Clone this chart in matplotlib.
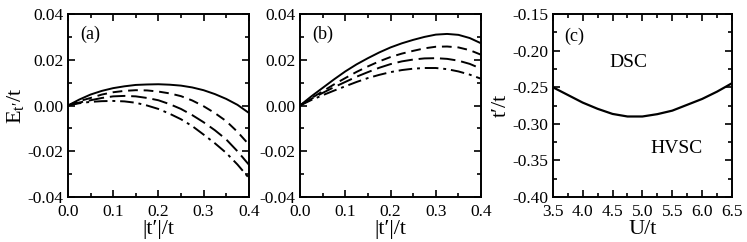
import matplotlib.pyplot as plt
from matplotlib.ticker import MultipleLocator

plt.rcParams["font.family"] = ["Liberation Serif", "DejaVu Serif"]
plt.rcParams["mathtext.fontset"] = "stix"

# panel (a) and (b): E_t'/t vs |t'|/t
tp = [0.0, 0.025, 0.05, 0.075, 0.10, 0.125, 0.15, 0.175, 0.20,
      0.225, 0.25, 0.275, 0.30, 0.325, 0.35, 0.375, 0.40]

a_solid = [0, 0.0026, 0.0048, 0.0064, 0.0076, 0.0084, 0.0090, 0.0092, 0.0093,
           0.0091, 0.0087, 0.0079, 0.0067, 0.0050, 0.0029, 0.0003, -0.0032]
a_dash = [0, 0.0019, 0.0033, 0.0048, 0.0058, 0.0064, 0.0067, 0.0066, 0.0061,
          0.0053, 0.0041, 0.0022, -0.0003, -0.0033, -0.0068, -0.0115, -0.0170]
a_ldash = [0, 0.0013, 0.0023, 0.0033, 0.0040, 0.0042, 0.0040, 0.0033, 0.0023,
           0.0006, -0.0015, -0.0042, -0.0073, -0.0108, -0.0148, -0.0200, -0.0258]
a_dashdot = [0, 0.0010, 0.0016, 0.0019, 0.0020, 0.0018, 0.0012, 0.0000, -0.0015,
             -0.0036, -0.0060, -0.0090, -0.0127, -0.0165, -0.0207, -0.0258, -0.0316]

b_solid = [0, 0.0040, 0.0077, 0.0114, 0.0149, 0.0180, 0.0207, 0.0232, 0.0254,
           0.0272, 0.0287, 0.0300, 0.0310, 0.0313, 0.0309, 0.0295, 0.0272]
b_dash = [0, 0.0032, 0.0062, 0.0092, 0.0120, 0.0147, 0.0171, 0.0193, 0.0212,
          0.0227, 0.0239, 0.0250, 0.0257, 0.0258, 0.0254, 0.0242, 0.0222]
b_ldash = [0, 0.0029, 0.0055, 0.0080, 0.0103, 0.0126, 0.0146, 0.0165, 0.0181,
           0.0193, 0.0201, 0.0206, 0.0207, 0.0204, 0.0196, 0.0182, 0.0161]
b_dashdot = [0, 0.0024, 0.0045, 0.0065, 0.0084, 0.0103, 0.0120, 0.0134, 0.0146,
             0.0155, 0.0161, 0.0164, 0.0164, 0.0159, 0.0149, 0.0135, 0.0117]

# panel (c): phase boundary t'/t vs U/t
U = [3.5, 3.75, 4.0, 4.25, 4.5, 4.75, 5.0, 5.25, 5.5, 5.75, 6.0, 6.25, 6.5]
boundary = [-0.250, -0.2605, -0.271, -0.2795, -0.2865, -0.2900, -0.2900, -0.2868,
            -0.2820, -0.2740, -0.2660, -0.2560, -0.2445]

styles = [(0, ()), (0, (5, 3)), (0, (8, 3)), (0, (7, 2.5, 1.5, 2.5))]


def style_axes(ax, xmaj, xmin, ymaj, ymin):
    ax.xaxis.set_major_locator(MultipleLocator(xmaj))
    ax.xaxis.set_minor_locator(MultipleLocator(xmin))
    ax.yaxis.set_major_locator(MultipleLocator(ymaj))
    ax.yaxis.set_minor_locator(MultipleLocator(ymin))
    ax.tick_params(which="both", direction="in", top=True, right=True,
                   labelsize=12.5, width=1.2)
    ax.tick_params(axis="x", which="both", pad=5)
    ax.tick_params(axis="y", which="both", pad=3)
    ax.tick_params(which="major", length=5)
    ax.tick_params(which="minor", length=3)
    for s in ax.spines.values():
        s.set_linewidth(1.4)


fig = plt.figure(figsize=(7.47, 2.42), dpi=100)
ax1 = fig.add_axes([0.091, 0.186, 0.242, 0.756])
ax2 = fig.add_axes([0.4016, 0.186, 0.2424, 0.756])
ax3 = fig.add_axes([0.740, 0.186, 0.240, 0.756])

for ax, curves, lab in [(ax1, [a_solid, a_dash, a_ldash, a_dashdot], "(a)"),
                        (ax2, [b_solid, b_dash, b_ldash, b_dashdot], "(b)")]:
    for y, ls in zip(curves, styles):
        ax.plot(tp, y, color="black", lw=1.4, linestyle=ls)
    ax.set_xlim(0, 0.4)
    ax.set_ylim(-0.04, 0.04)
    style_axes(ax, 0.1, 0.05, 0.02, 0.01)
    ax.yaxis.set_major_formatter(lambda v, p: f"{v:.2f}")
    ax.xaxis.set_major_formatter(lambda v, p: f"{v:.1f}")
    ax.set_xlabel("|t\u2032|/t", fontsize=16, labelpad=0)
    ax.text(0.027, 0.0313, lab, fontsize=13, va="center")

ax1.set_ylabel("E$_{\\mathregular{t\u2032}}$/t", fontsize=16, labelpad=1)

ax3.plot(U, boundary, color="black", lw=1.6)
ax3.set_xlim(3.5, 6.5)
ax3.set_ylim(-0.40, -0.15)
style_axes(ax3, 0.5, 0.25, 0.05, 0.025)
ax3.yaxis.set_major_formatter(lambda v, p: f"{v:.2f}")
ax3.xaxis.set_major_formatter(lambda v, p: f"{v:.1f}")
ax3.set_xlabel("U/t", fontsize=16, labelpad=0)
ax3.set_ylabel("t\u2032/t", fontsize=16, labelpad=1)
ax3.text(3.7, -0.18, "(c)", fontsize=13, va="center")
ax3.text(4.45, -0.2156, "DSC", fontsize=14, va="center")
ax3.text(5.13, -0.334, "HVSC", fontsize=14, va="center")

fig.savefig("out.png", dpi=100)
